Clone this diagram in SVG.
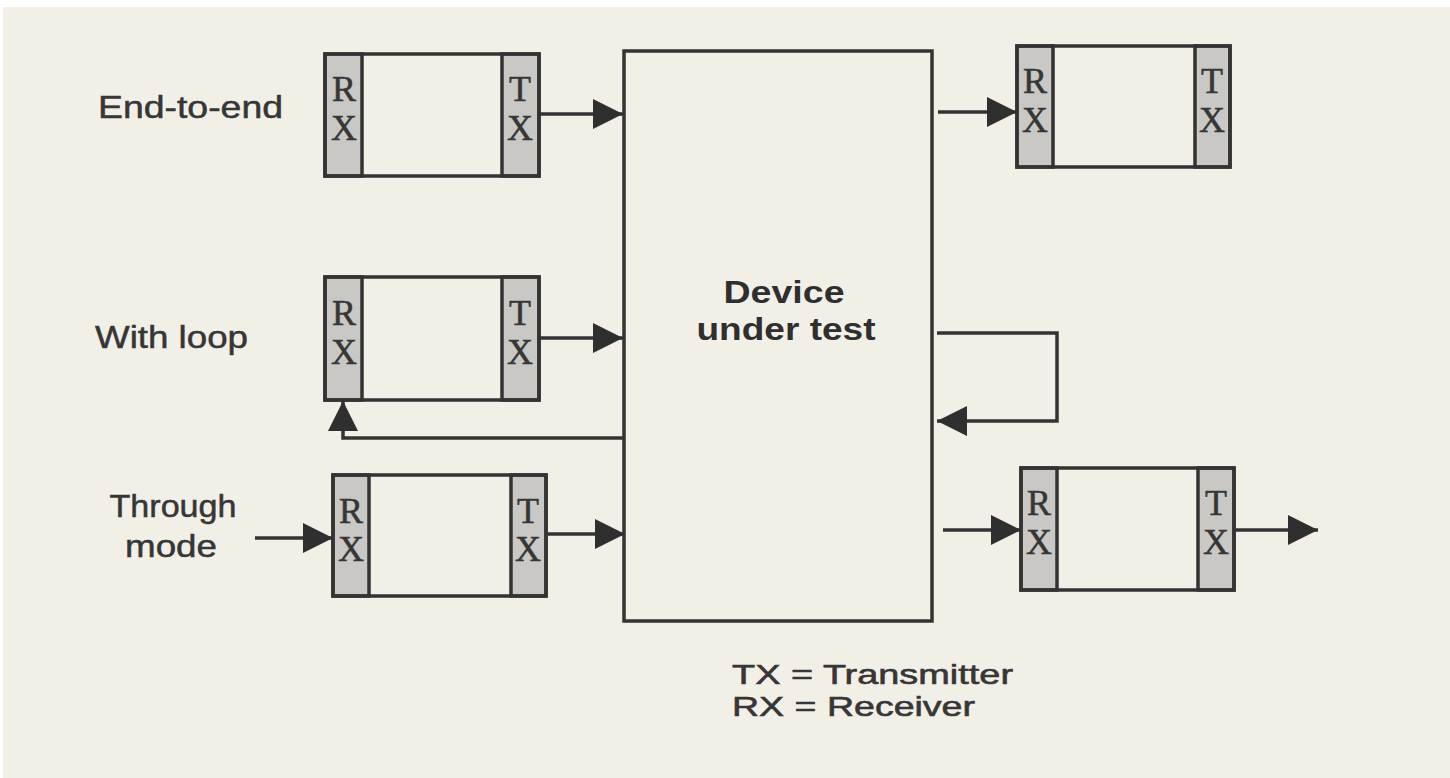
<svg xmlns="http://www.w3.org/2000/svg" width="1450" height="778" viewBox="0 0 1450 778">
  <style>
    .box { fill: none; stroke: #333333; stroke-width: 3.5; }
    .strip { fill: #c9c8c4; stroke: #333333; stroke-width: 3.5; }
    .rx { font-family: "Liberation Sans", Arial, sans-serif; font-size: 32px; }
    .rx { font-family: "Liberation Serif", "Times New Roman", serif; font-size: 36px; fill: #363636; stroke: #363636; stroke-width: 0.5; text-anchor: middle; }
    .lbl { font-family: "Liberation Sans", Arial, sans-serif; font-size: 32px; fill: #363636; stroke: #363636; stroke-width: 0.5; }
    .leg { font-family: "Liberation Sans", Arial, sans-serif; font-size: 28px; fill: #363636; stroke: #363636; stroke-width: 0.6; }
    .dut { font-family: "Liberation Sans", Arial, sans-serif; font-size: 31px; font-weight: bold; fill: #2f2f2f; text-anchor: middle; }
    .wire { fill: none; stroke: #333333; stroke-width: 3.5; }
  </style>
  <defs>
    <marker id="ah" viewBox="0 0 30 30" refX="30" refY="15" markerWidth="30" markerHeight="30" markerUnits="userSpaceOnUse" orient="auto">
      <path d="M0,0 L30,15 L0,30 z" fill="#2f2f2f"/>
    </marker>
  </defs>
  <rect x="0" y="0" width="1450" height="778" fill="#ffffff"/>
  <rect x="3" y="7" width="1447" height="771" fill="#f2f0e6"/>

  <g id="labels">
    <text class="lbl" x="98" y="118" textLength="185" lengthAdjust="spacingAndGlyphs">End-to-end</text>
    <text class="lbl" x="95" y="348" textLength="153" lengthAdjust="spacingAndGlyphs">With loop</text>
    <text class="lbl" x="173" y="517" text-anchor="middle" textLength="127" lengthAdjust="spacingAndGlyphs">Through</text>
    <text class="lbl" x="171" y="557" text-anchor="middle" textLength="92" lengthAdjust="spacingAndGlyphs">mode</text>
  </g>

  <g id="dut">
    <rect class="box" x="624" y="51" width="308" height="570"/>
    <text class="dut" x="784" y="303" textLength="121" lengthAdjust="spacingAndGlyphs">Device</text>
    <text class="dut" x="786" y="340" textLength="179" lengthAdjust="spacingAndGlyphs">under test</text>
  </g>

  <g id="box-end-left">
    <rect class="strip" x="325" y="54" width="37" height="122"/>
    <rect class="strip" x="502" y="54" width="37" height="122"/>
    <rect class="box" x="325" y="54" width="214" height="122"/>
    <text class="rx" x="344" y="101">R</text><text class="rx" x="344" y="140">X</text>
    <text class="rx" x="520" y="101">T</text><text class="rx" x="520" y="140">X</text>
  </g>

  <g id="box-end-right">
    <rect class="strip" x="1017" y="46" width="36" height="121"/>
    <rect class="strip" x="1195" y="46" width="35" height="121"/>
    <rect class="box" x="1017" y="46" width="213" height="121"/>
    <text class="rx" x="1035" y="93">R</text><text class="rx" x="1035" y="132">X</text>
    <text class="rx" x="1212" y="93">T</text><text class="rx" x="1212" y="132">X</text>
  </g>

  <g id="box-loop">
    <rect class="strip" x="325" y="277" width="37" height="123"/>
    <rect class="strip" x="502" y="277" width="37" height="123"/>
    <rect class="box" x="325" y="277" width="214" height="123"/>
    <text class="rx" x="344" y="325">R</text><text class="rx" x="344" y="364">X</text>
    <text class="rx" x="520" y="325">T</text><text class="rx" x="520" y="364">X</text>
  </g>

  <g id="box-through-left">
    <rect class="strip" x="333" y="475" width="36" height="121"/>
    <rect class="strip" x="511" y="475" width="35" height="121"/>
    <rect class="box" x="333" y="475" width="213" height="121"/>
    <text class="rx" x="351" y="523">R</text><text class="rx" x="351" y="561">X</text>
    <text class="rx" x="528" y="523">T</text><text class="rx" x="528" y="561">X</text>
  </g>

  <g id="box-through-right">
    <rect class="strip" x="1021" y="468" width="36" height="122"/>
    <rect class="strip" x="1198" y="468" width="36" height="122"/>
    <rect class="box" x="1021" y="468" width="213" height="122"/>
    <text class="rx" x="1039" y="515">R</text><text class="rx" x="1039" y="554">X</text>
    <text class="rx" x="1216" y="515">T</text><text class="rx" x="1216" y="554">X</text>
  </g>

  <g id="connectors">
    <path class="wire" d="M539,114 L623,114" marker-end="url(#ah)"/>
    <path class="wire" d="M938,112 L1017,112" marker-end="url(#ah)"/>
    <path class="wire" d="M539,338 L623,338" marker-end="url(#ah)"/>
    <path class="wire" d="M624,438 L343,438 L343,401" marker-end="url(#ah)"/>
    <path class="wire" d="M937,333 L1057,333 L1057,421 L937,421" marker-end="url(#ah)"/>
    <path class="wire" d="M255,538 L333,538" marker-end="url(#ah)"/>
    <path class="wire" d="M546,534 L625,534" marker-end="url(#ah)"/>
    <path class="wire" d="M943,530 L1021,530" marker-end="url(#ah)"/>
    <path class="wire" d="M1234,530 L1318,530" marker-end="url(#ah)"/>
  </g>

  <g id="legend">
    <text class="leg" x="732" y="684" textLength="281" lengthAdjust="spacingAndGlyphs">TX = Transmitter</text>
    <text class="leg" x="732" y="716" textLength="243" lengthAdjust="spacingAndGlyphs">RX = Receiver</text>
  </g>
</svg>
